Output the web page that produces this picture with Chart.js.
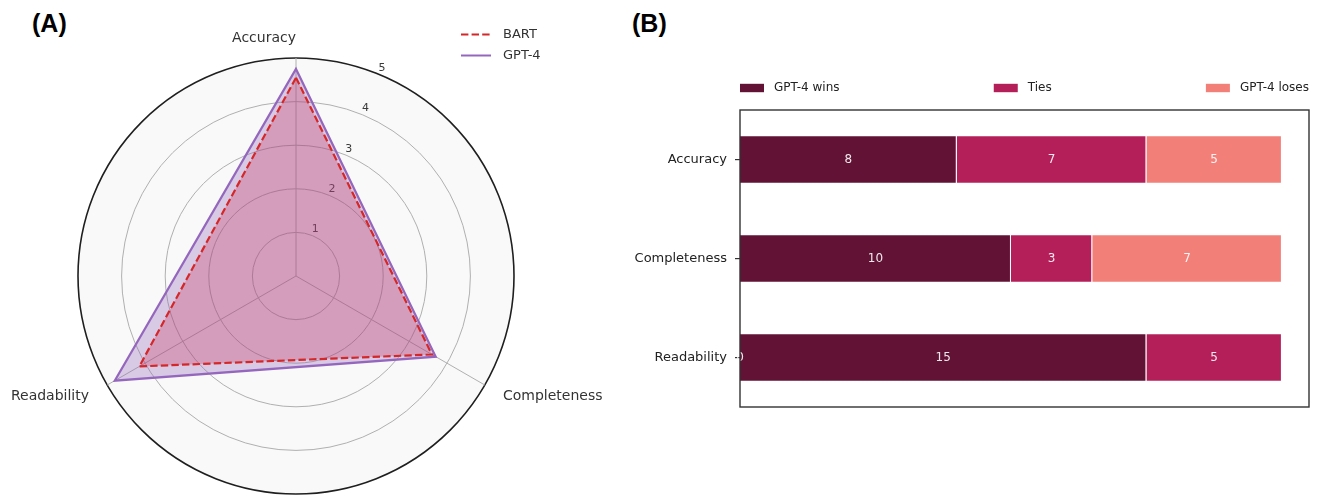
<!DOCTYPE html>
<html><head><meta charset="utf-8">
<script src="https://cdn.jsdelivr.net/npm/chart.js@4.4.0/dist/chart.umd.min.js"></script>
<style>
html,body{margin:0;padding:0;background:#fff;width:1324px;height:495px;overflow:hidden;position:relative;}
canvas{position:absolute;}
#cA{left:0;top:0;}
#cB{left:626px;top:0;}
.tag{position:absolute;font-family:"Liberation Sans",Arial,sans-serif;font-weight:bold;font-size:25px;color:#000;line-height:30px;}
</style></head><body>
<div class="tag" style="left:32px;top:8px">(A)</div>
<div class="tag" style="left:632px;top:8px">(B)</div>
<canvas id="cA" width="620" height="495"></canvas>
<canvas id="cB" width="698" height="495"></canvas>
<script>
// ---- Panel A data ----
const radarAxes = ['Accuracy', 'Completeness', 'Readability'];
const bartScores = [4.55, 3.6, 4.15];
const gpt4Scores = [4.75, 3.7, 4.8];
const radialTicks = [1, 2, 3, 4, 5];
const radarSeriesNames = ['BART', 'GPT-4'];

// ---- Panel B data ----
const barCategories = ['Accuracy', 'Completeness', 'Readability'];
const gpt4Wins = [8, 10, 15];
const gpt4Ties = [7, 3, 5];
const gpt4Loses = [5, 7, 0];
const barSeriesNames = ['GPT-4 wins', 'Ties', 'GPT-4 loses'];

const FONT = "'DejaVu Sans', sans-serif";
const RED = '#d62728', PURPLE = '#9467bd';

const radarDecor = {
  id: 'radarDecor',
  beforeDatasetsDraw(chart) {
    const s = chart.scales.r, ctx = chart.ctx;
    ctx.save();
    ctx.font = `11px ${FONT}`;
    ctx.fillStyle = '#3a3a3a';
    ctx.textAlign = 'center';
    ctx.textBaseline = 'middle';
    const a = -Math.PI / 2 + Math.PI / 8;
    radialTicks.forEach(v => {
      const d = s.getDistanceFromCenterForValue(v) + 7;
      ctx.fillText(String(v), s.xCenter + d * Math.cos(a), s.yCenter + d * Math.sin(a));
    });
    ctx.font = `14px ${FONT}`;
    ctx.fillStyle = '#333';
    const aligns = ['right', 'left', 'right'];
    radarAxes.forEach((lab, i) => {
      const p = s.getPointPosition(i, s.drawingArea + 21);
      ctx.textAlign = aligns[i];
      ctx.fillText(lab, p.x, p.y + 1);
    });
    ctx.restore();
  },
  afterDraw(chart) {
    const ctx = chart.ctx;
    ctx.save();
    const styles = [{c: RED, dash: [7.4, 3.2]}, {c: PURPLE, dash: []}];
    radarSeriesNames.forEach((n, i) => {
      const y = 34.5 + i * 21;
      ctx.strokeStyle = styles[i].c;
      ctx.lineWidth = 2;
      ctx.setLineDash(styles[i].dash);
      ctx.beginPath(); ctx.moveTo(461, y); ctx.lineTo(491, y); ctx.stroke();
      ctx.setLineDash([]);
      ctx.font = `13px ${FONT}`;
      ctx.fillStyle = '#333';
      ctx.textAlign = 'left';
      ctx.textBaseline = 'middle';
      ctx.fillText(n, 503, y);
    });
    ctx.restore();
  }
};

new Chart(document.getElementById('cA'), {
  type: 'radar',
  data: {
    labels: radarAxes,
    datasets: [
      {label: radarSeriesNames[0], data: bartScores, borderColor: RED, borderWidth: 2.2, borderDash: [7.4, 3.2],
       backgroundColor: 'rgba(196,30,70,0.26)', fill: true, pointRadius: 0},
      {label: radarSeriesNames[1], data: gpt4Scores, borderColor: PURPLE, borderWidth: 2.2,
       backgroundColor: 'rgba(148,103,189,0.33)', fill: true, pointRadius: 0}
    ]
  },
  options: {
    responsive: false, animation: false,
    layout: {padding: {left: 78, top: 58, right: 106, bottom: 1}},
    elements: {line: {tension: 0}},
    plugins: {legend: {display: false}, tooltip: {enabled: false}},
    scales: {
      r: {
        min: 0, max: 5, startAngle: 0,
        backgroundColor: '#f9f9f9',
        ticks: {display: false, stepSize: 1},
        pointLabels: {display: false},
        grid: {
          circular: true,
          color: c => (c.tick && c.tick.value === 5) ? '#1f1f1f' : '#b0b0b0',
          lineWidth: c => (c.tick && c.tick.value === 5) ? 1.6 : 1
        },
        angleLines: {color: '#b0b0b0', lineWidth: 1}
      }
    }
  },
  plugins: [radarDecor]
});

const barColors = ['#611235', '#b41f5a', '#f37f79'];
const barDecor = {
  id: 'barDecor',
  afterDatasetsDraw(chart) {
    const ctx = chart.ctx, a = chart.chartArea, xs = chart.scales.x;
    ctx.save();
    ctx.font = `12px ${FONT}`;
    ctx.fillStyle = 'rgba(255,255,255,0.9)';
    ctx.textAlign = 'center';
    ctx.textBaseline = 'middle';
    chart.data.datasets.forEach((ds, di) => {
      chart.getDatasetMeta(di).data.forEach((el, i) => {
        const v = ds.data[i];
        const x = v === 0 ? xs.getPixelForValue(0) : (el.x + el.base) / 2;
        ctx.fillText(String(v), x, el.y);
      });
    });
    ctx.strokeStyle = '#333';
    ctx.lineWidth = 1.4;
    ctx.strokeRect(a.left, a.top, a.right - a.left, a.bottom - a.top);
    // expanded legend
    ctx.font = `12px ${FONT}`;
    ctx.textAlign = 'left';
    const hw = 24, gapT = 10;
    const widths = barSeriesNames.map(n => hw + gapT + ctx.measureText(n).width);
    const total = widths.reduce((p, q) => p + q, 0);
    const gap = (a.right - a.left - total) / (barSeriesNames.length - 1);
    let x = a.left;
    const y = 88;
    barSeriesNames.forEach((n, i) => {
      ctx.fillStyle = barColors[i];
      ctx.fillRect(x, y - 4.2, hw, 8.4);
      ctx.fillStyle = '#222';
      ctx.fillText(n, x + hw + gapT, y);
      x += widths[i] + gap;
    });
    ctx.restore();
  }
};

new Chart(document.getElementById('cB'), {
  type: 'bar',
  data: {
    labels: barCategories,
    datasets: [
      {label: barSeriesNames[0], data: gpt4Wins, backgroundColor: barColors[0], borderColor: 'rgba(255,255,255,0.8)', borderWidth: 1},
      {label: barSeriesNames[1], data: gpt4Ties, backgroundColor: barColors[1], borderColor: 'rgba(255,255,255,0.8)', borderWidth: 1},
      {label: barSeriesNames[2], data: gpt4Loses, backgroundColor: barColors[2], borderColor: 'rgba(255,255,255,0.8)', borderWidth: 1}
    ]
  },
  options: {
    indexAxis: 'y', responsive: false, animation: false,
    layout: {padding: {left: 0, top: 110, right: 15, bottom: 88}},
    datasets: {bar: {categoryPercentage: 1, barPercentage: 0.49}},
    plugins: {legend: {display: false}, tooltip: {enabled: false}},
    scales: {
      x: {stacked: true, min: 0, max: 21, display: false},
      y: {
        stacked: true,
        grid: {display: true, drawOnChartArea: false, offset: false, tickLength: 5, color: '#333', lineWidth: 1.2},
        border: {display: false},
        ticks: {font: {family: "'DejaVu Sans', sans-serif", size: 13}, color: '#222', padding: 8},
        afterFit(s) { s.width = 114; }
      }
    }
  },
  plugins: [barDecor]
});
</script>
</body></html>
